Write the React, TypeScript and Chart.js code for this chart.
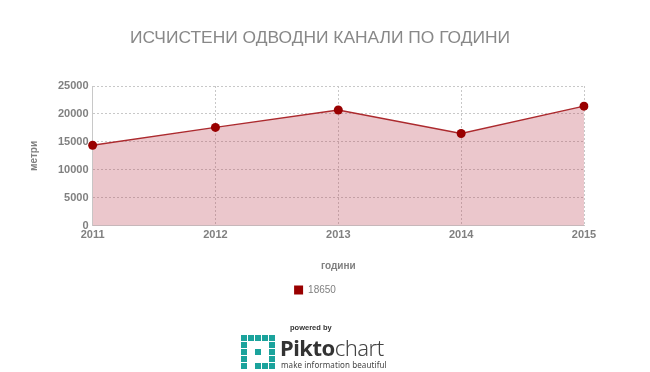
import React, { useEffect, useRef } from "react";
import { Chart, registerables } from "chart.js";

Chart.register(...registerables);

const categories = ["2011", "2012", "2013", "2014", "2015"];
const seriesValues = [14400, 17600, 20700, 16500, 21400];
const seriesLabel = "18650";
const yTicks = [0, 5000, 10000, 15000, 20000, 25000];
const titleText = "ИСЧИСТЕНИ ОДВОДНИ КАНАЛИ ПО ГОДИНИ";
const xTitle = "години";
const yTitle = "метри";

const FONT = "'Liberation Sans', Arial, sans-serif";
const GRAY = "#808080";

// logo grid: 1 = teal, 0 = white
const logoGrid = [
  [1, 1, 1, 1, 1],
  [1, 0, 0, 0, 1],
  [1, 0, 1, 0, 1],
  [1, 0, 0, 0, 1],
  [1, 0, 1, 1, 1],
];

export default function App() {
  const ref = useRef<HTMLCanvasElement | null>(null);
  useEffect(() => {
    if (!ref.current) return;
    const chart = new Chart(ref.current, {
      type: "line",
      data: {
        labels: categories,
        datasets: [
          {
            label: seriesLabel,
            data: seriesValues,
            borderColor: "#ac2a2e",
            borderWidth: 1.5,
            backgroundColor: "rgba(190, 70, 85, 0.3)",
            fill: true,
            tension: 0,
            pointRadius: 4.5,
            pointBackgroundColor: "#990000",
            pointBorderColor: "#990000",
            pointBorderWidth: 0,
          },
        ],
      },
      options: {
        animation: false,
        responsive: false,
        maintainAspectRatio: false,
        layout: { padding: { left: 28, right: 66, top: 86, bottom: 67 } },
        plugins: {
          tooltip: { enabled: false },
          title: { display: false },
          legend: {
            display: true,
            position: "bottom",
            labels: {
              color: GRAY,
              font: { family: FONT, size: 10 },
              boxWidth: 9,
              boxHeight: 9,
              padding: 10,
              generateLabels: (c: any) =>
                c.data.datasets.map((d: any, i: number) => ({
                  text: d.label,
                  fillStyle: "#990000",
                  strokeStyle: "#990000",
                  lineWidth: 0,
                  fontColor: GRAY,
                  datasetIndex: i,
                  hidden: false,
                })),
            },
          },
        },
        scales: {
          x: {
            type: "category",
            offset: false,
            grid: { color: "#c8c8c8", tickLength: 0 },
            border: { display: true, color: "#c8c8c8", dash: [2, 2] },
            ticks: {
              color: GRAY,
              font: { family: FONT, size: 11, weight: "bold" },
              padding: 3,
              maxRotation: 0,
            },
            title: {
              display: true,
              text: xTitle,
              color: GRAY,
              font: { family: FONT, size: 10, weight: "bold" },
              padding: { top: 15, bottom: 3 },
            },
          },
          y: {
            min: 0,
            max: 25000,
            afterBuildTicks: (axis: any) => {
              axis.ticks = yTicks.map((v) => ({ value: v }));
            },
            grid: { color: "#c8c8c8", tickLength: 0 },
            border: { display: true, color: "#c8c8c8", dash: [2, 2] },
            ticks: {
              color: GRAY,
              font: { family: FONT, size: 11, weight: "bold" },
              padding: 4,
              callback: (v: any) => String(v),
            },
            title: {
              display: true,
              text: yTitle,
              color: GRAY,
              font: { family: FONT, size: 10, weight: "bold" },
              padding: { top: 0, bottom: 14 },
            },
          },
        },
      },
      plugins: [
        {
          id: "shiftLegend",
          afterLayout: (c: any) => {
            if (c.legend) {
              c.legend.left += 9;
              c.legend.right += 9;
            }
          },
        },
      ],
    } as any);
    return () => chart.destroy();
  }, []);

  return (
    <div style={{ position: "fixed", left: 0, top: 0, width: 650, height: 372, background: "#fff" }}>
      <canvas ref={ref} width={650} height={372} style={{ position: "absolute", left: 0, top: 0 }} />
      <div
        style={{
          position: "absolute",
          left: 0,
          width: 640,
          top: 27,
          textAlign: "center",
          fontFamily: FONT,
          fontSize: 17.4,
          lineHeight: "20px",
          color: "#888888",
          whiteSpace: "nowrap",
        }}
      >
        {titleText}
      </div>
      <div
        style={{
          position: "absolute",
          left: 290,
          top: 323,
          fontFamily: FONT,
          fontSize: 7.5,
          fontWeight: "bold",
          color: "#333",
        }}
      >
        powered by
      </div>
      <div style={{ position: "absolute", left: 241, top: 335, width: 35, height: 35 }}>
        {logoGrid.map((row, r) =>
          row.map((v, cIdx) =>
            v ? (
              <div
                key={r + "-" + cIdx}
                style={{
                  position: "absolute",
                  left: cIdx * 7,
                  top: r * 7,
                  width: 6,
                  height: 6,
                  background: "#1ba39c",
                }}
              />
            ) : null
          )
        )}
      </div>
      <div
        style={{
          position: "absolute",
          left: 280,
          top: 334,
          fontFamily: "'Noto Sans', sans-serif",
          fontSize: 22,
          lineHeight: "26px",
          color: "#333",
          letterSpacing: -0.5,
        }}
      >
        <span style={{ fontWeight: "bold" }}>Pikto</span>
        <span style={{ fontWeight: 300, color: "#444" }}>chart</span>
      </div>
      <div
        style={{
          position: "absolute",
          left: 281,
          top: 359,
          fontFamily: "'Noto Sans', sans-serif",
          fontSize: 8,
          color: "#444",
          letterSpacing: 0.1,
        }}
      >
        make information beautiful
      </div>
    </div>
  );
}
